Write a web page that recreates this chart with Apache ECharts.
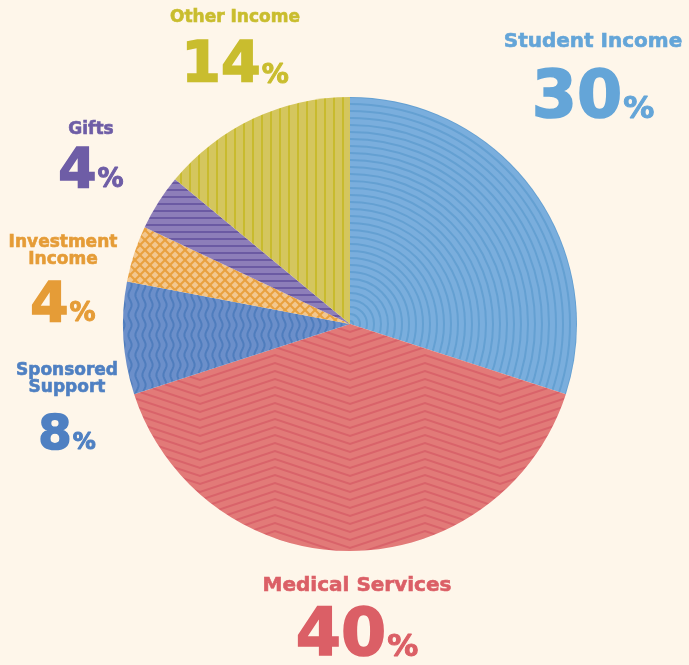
<!DOCTYPE html>
<html>
<head>
<meta charset="utf-8">
<script src="https://cdn.jsdelivr.net/npm/echarts@6/dist/echarts.min.js"></script>
<style>
  html, body { margin: 0; padding: 0; background: #fef6ea; }
  #chart { width: 689px; height: 665px; }
</style>
</head>
<body>
<div id="chart"></div>
<script>
// Funding sources, clockwise from 12 o'clock
const categories = ['Student Income', 'Medical Services', 'Sponsored\nSupport', 'Investment\nIncome', 'Gifts', 'Other Income'];
const shares = [30, 40, 8, 4, 4, 14];

const W = 689, H = 665;
const CX = 350, CY = 324, R = 227;

// fill / stripe / label colours per slice
const baseColors = ['#7aaedd', '#e27a78', '#6b8fca', '#f2c78f', '#8d7eb9', '#d4c65e'];
const lineColors = ['#64a0d2', '#d9636a', '#4f7dbd', '#e9a13f', '#6b5aa3', '#c8bb2e'];
const textColors = ['#64a5d8', '#db5f66', '#4f80c2', '#e59c37', '#6e5da6', '#c9bd2e'];
const patterns = ['rings', 'chevron', 'wave', 'cross', 'hstripe', 'vstripe'];

// label block: [centerX, top, nameSize, nameLH, numSize, numLH]
const labelBoxes = [
  [593, 29, 20, 26, 65, 78],
  [357, 573, 20, 26, 65, 72],
  [67, 362, 17, 17, 48, 65],
  [63, 234, 17, 17, 55, 66],
  [91, 120, 17, 20, 55, 60],
  [235, 8, 17, 20, 57, 68]
];

function makePattern(kind, base, stroke) {
  const c = document.createElement('canvas');
  c.width = W; c.height = H;
  const g = c.getContext('2d');
  g.fillStyle = base;
  g.fillRect(0, 0, W, H);
  g.strokeStyle = stroke;
  g.lineWidth = 2;
  if (kind === 'rings') {
    for (let r = 3; r < 340; r += 7) {
      g.beginPath(); g.arc(CX, CY, r, 0, Math.PI * 2); g.stroke();
    }
  } else if (kind === 'chevron') {
    for (let y0 = -60; y0 < H + 60; y0 += 8) {
      g.beginPath();
      for (let x = -100; x <= W + 100; x += 75) {
        // peaks at x = 275 + 150k, valleys at 200 + 150k
        const ph = (((x - 200) / 75) % 2 + 2) % 2;
        const y = y0 + (ph < 1 ? 0 : -25);
        if (x === -100) g.moveTo(x, y); else g.lineTo(x, y);
      }
      g.stroke();
    }
  } else if (kind === 'wave') {
    for (let x0 = -10; x0 < W + 10; x0 += 7) {
      g.beginPath();
      for (let y = 0; y <= H; y += 1) {
        const x = x0 + 1.6 * Math.sin(y / 20 * Math.PI * 2);
        if (y === 0) g.moveTo(x, y); else g.lineTo(x, y);
      }
      g.stroke();
    }
  } else if (kind === 'cross') {
    for (let k = -H; k < W + H; k += 10) {
      g.beginPath(); g.moveTo(k, 0); g.lineTo(k + H, H); g.stroke();
      g.beginPath(); g.moveTo(k, 0); g.lineTo(k - H, H); g.stroke();
    }
  } else if (kind === 'hstripe') {
    for (let y = 1; y < H; y += 7) {
      g.beginPath(); g.moveTo(0, y); g.lineTo(W, y); g.stroke();
    }
  } else if (kind === 'vstripe') {
    for (let x = 1; x < W; x += 9) {
      g.beginPath(); g.moveTo(x, 0); g.lineTo(x, H); g.stroke();
    }
  }
  return c;
}

const FONT = '"DejaVu Sans", sans-serif';

const pieData = categories.map((name, i) => {
  const b = labelBoxes[i];
  const pctSize = Math.round(b[4] * 0.47);
  const col = textColors[i];
  return {
    name: name,
    value: shares[i],
    itemStyle: {
      color: { image: makePattern(patterns[i], baseColors[i], lineColors[i]), repeat: 'no-repeat' }
    },
    label: {
      rich: {
        name: { fontFamily: FONT, fontWeight: 'bold', fontSize: b[2], lineHeight: b[3], color: col,
                textBorderColor: col, textBorderWidth: 0.6, align: 'center' },
        num: { fontFamily: FONT, fontWeight: 'bold', fontSize: b[4], lineHeight: b[5], color: col,
               textBorderColor: col, textBorderWidth: 1.6, verticalAlign: 'bottom' },
        pct: { fontFamily: FONT, fontWeight: 'bold', fontSize: pctSize, lineHeight: b[5], color: col,
               textBorderColor: col, textBorderWidth: 1, verticalAlign: 'bottom',
               padding: [0, 0, Math.round(0.24 * (b[4] - pctSize)), 1] }
      }
    }
  };
});

const chart = echarts.init(document.getElementById('chart'), null, { renderer: 'canvas' });
chart.setOption({
  backgroundColor: '#fef6ea',
  animation: false,
  series: [{
    type: 'pie',
    center: [CX, CY],
    radius: R,
    startAngle: 90,
    clockwise: true,
    avoidLabelOverlap: false,
    data: pieData,
    label: {
      show: true,
      position: 'outside',
      formatter: p => `{name|${p.name}}\n{num|${p.value}}{pct|%}`
    },
    labelLine: { show: false },
    labelLayout: params => {
      const b = labelBoxes[params.dataIndex];
      return { x: b[0], y: b[1], align: 'center', verticalAlign: 'top' };
    },
    emphasis: { disabled: true }
  }]
});
</script>
</body>
</html>
